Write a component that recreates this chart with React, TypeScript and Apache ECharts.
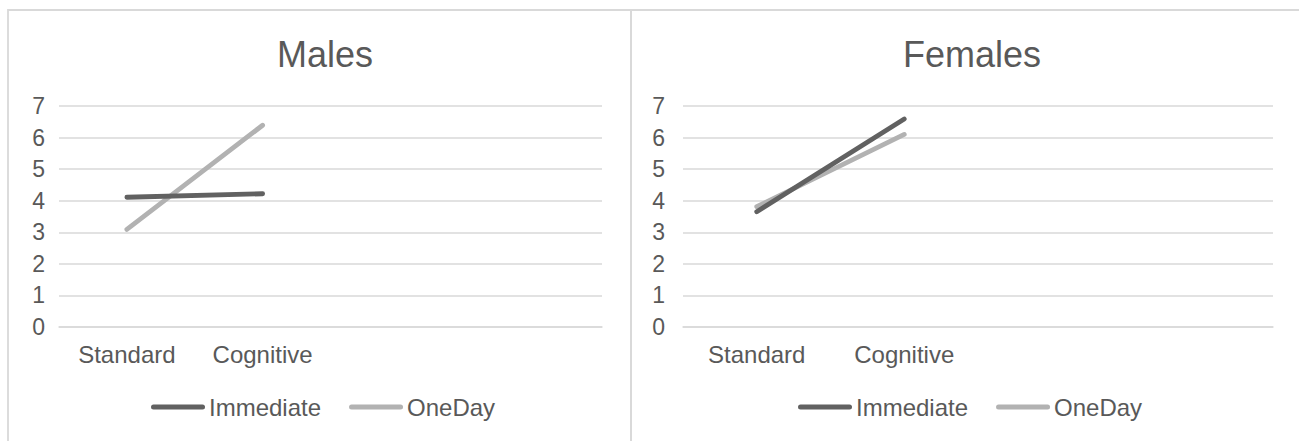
import React, { useEffect, useRef } from "react";
import * as echarts from "echarts";

const categories = ["Standard", "Cognitive", "", ""];
const yTicks = { min: 0, max: 7, interval: 1 };
const seriesNames = ["Immediate", "OneDay"];
const panelTitles = ["Males", "Females"];

const malesImmediate = [4.11, 4.22];
const malesOneDay = [3.09, 6.39];
const femalesImmediate = [3.65, 6.59];
const femalesOneDay = [3.81, 6.1];

const TEXT = "#595959";
const GRID = "#d9d9d9";
const DARK = "#616161";
const LIGHT = "#b2b2b2";
const FONT = "Liberation Sans, Arial, sans-serif";
const legendIcon =
  "path://M2.5,0 L51.5,0 A2.5,2.5 0 0 1 51.5,5 L2.5,5 A2.5,2.5 0 0 1 2.5,0 Z";

export default function App() {
  const ref = useRef<HTMLDivElement>(null);
  useEffect(() => {
    if (!ref.current) return;
    const chart = echarts.init(ref.current, undefined, { renderer: "svg" });
    const grids = [
      { left: 59, top: 106, width: 543, height: 221 },
      { left: 683, top: 106, width: 590, height: 221 },
    ];
    const titleX = [320, 967];
    const legendX = [151, 798];
    const labelMargins = [14, 18];
    const data = [
      [malesImmediate, malesOneDay],
      [femalesImmediate, femalesOneDay],
    ];
    const option: any = {
      animation: false,
      textStyle: { fontFamily: FONT, color: TEXT },
      title: panelTitles.map((t, i) => ({
        text: t,
        left: titleX[i],
        top: 31,
        textAlign: "center",
        textStyle: { fontSize: 36, fontWeight: "normal", color: TEXT, fontFamily: FONT },
      })),
      legend: [0, 1].map((i) => ({
        data: seriesNames,
        left: legendX[i],
        top: 395,
        icon: legendIcon,
        itemWidth: 54,
        itemHeight: 5,
        itemGap: 28,
        padding: 0,
        textStyle: { fontSize: 24, color: TEXT, fontFamily: FONT, padding: [0, 0, 0, -1] },
      })),
      grid: grids,
      xAxis: [0, 1].map((i) => ({
        type: "category",
        gridIndex: i,
        data: categories,
        boundaryGap: true,
        axisLine: { show: true, lineStyle: { color: GRID, width: 1.5 } },
        axisTick: { show: false },
        axisLabel: { interval: 0, fontSize: 24, color: TEXT, margin: 15, fontFamily: FONT },
      })),
      yAxis: [0, 1].map((i) => ({
        type: "value",
        gridIndex: i,
        min: yTicks.min,
        max: yTicks.max,
        interval: yTicks.interval,
        axisLine: { show: false },
        axisTick: { show: false },
        splitLine: { lineStyle: { color: GRID, width: 1.5 } },
        axisLabel: { fontSize: 23, color: TEXT, margin: labelMargins[i], fontFamily: FONT },
      })),
      series: [0, 1].flatMap((i) =>
        seriesNames.map((name, j) => ({
          name,
          type: "line",
          xAxisIndex: i,
          yAxisIndex: i,
          data: data[i][j],
          showSymbol: false,
          symbol: "none",
          color: j === 0 ? DARK : LIGHT,
          lineStyle: { width: 4.8, cap: "round", color: j === 0 ? DARK : LIGHT },
          z: j === 0 ? 3 : 2,
        }))
      ),
      graphic: [
        {
          type: "rect",
          shape: { x: 8, y: 10, width: 623, height: 500 },
          style: { fill: "none", stroke: GRID, lineWidth: 1.8 },
          silent: true,
        },
        {
          type: "rect",
          shape: { x: 631, y: 10, width: 700, height: 500 },
          style: { fill: "none", stroke: GRID, lineWidth: 1.8 },
          silent: true,
        },
      ],
    };
    chart.setOption(option);
    return () => chart.dispose();
  }, []);
  return (
    <div
      ref={ref}
      style={{ position: "fixed", left: 0, top: 0, width: 1299, height: 441, background: "#fff" }}
    />
  );
}
